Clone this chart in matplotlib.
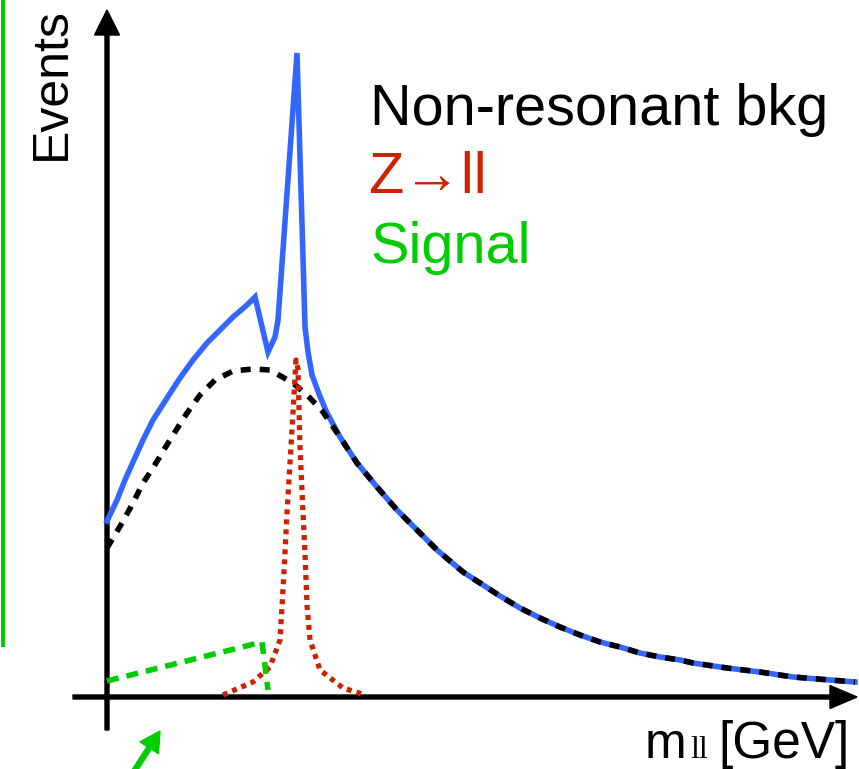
import matplotlib
matplotlib.use("Agg")
import matplotlib.pyplot as plt

plt.rcParams['font.family'] = ['Liberation Sans', 'DejaVu Sans']
plt.rcParams['lines.scale_dashes'] = False

# schematic curves, x = mass (arbitrary units), y = events (arbitrary units)
bkg_x = [0, 15, 26, 36, 46, 58, 68, 80, 93, 108, 126, 146, 163, 186, 203, 216,
         233, 250, 270, 290, 310, 330, 356, 373, 393, 413, 433, 453, 473, 493,
         513, 533, 553, 573, 586, 620, 653, 686, 748]
bkg_y = [149, 174, 194, 214, 229, 249, 265, 284, 302, 317, 326, 328, 327, 314, 299, 285,
         260, 234, 210, 187, 167, 147, 125, 114, 101, 89, 79, 70, 62, 55,
         50, 44, 40, 37, 34, 29, 25, 20, 15]

tot_x = [0, 10, 18, 26, 36, 46, 60, 73, 86, 100, 113, 126, 140, 148, 161, 168, 171,
         190, 193, 196, 198, 201, 205, 212, 220, 233]
tot_y = [176, 197, 217, 235, 257, 277, 299, 319, 337, 354, 367, 380, 392, 400, 345, 360, 377,
         644, 540, 440, 370, 345, 322, 303, 284, 260]
# beyond the Z peak the total follows the background
tot_x = tot_x + bkg_x[17:]
tot_y = tot_y + bkg_y[17:]

z_x = [116, 146, 163, 173, 175, 178, 180, 183, 186, 189, 191, 193, 196, 198, 200,
       203, 213, 236, 255]
z_y = [2, 15, 30, 57, 90, 144, 184, 234, 284, 337, 328, 250, 184, 144, 92,
       57, 27, 9, 3]

sig_x = [0, 155, 161]
sig_y = [16, 55, 7]

legend_labels = ['Non-resonant bkg', 'Z\u2192ll', 'Signal']

blue = '#3366ff'
red = '#cc2200'
green = '#00cc00'

fig = plt.figure(figsize=(8.59, 7.69), dpi=100)
ax = fig.add_axes([0, 0, 1, 1])
ax.set_xlim(-107, 752)
ax.set_ylim(-72, 697)
ax.axis('off')

# axes arrows
ax.arrow(0, -33, 0, 720, width=4, head_width=25, head_length=25,
         length_includes_head=True, color='k', zorder=1)
ax.arrow(-34, 0, 784, 0, width=4, head_width=23, head_length=27,
         length_includes_head=True, color='k', zorder=1)

ax.plot(tot_x, tot_y, color=blue, lw=4, solid_joinstyle='miter', zorder=2)
ax.plot(bkg_x, bkg_y, color='k', lw=4, dashes=(7.2, 6.5), zorder=3)
ax.plot(z_x, z_y, color=red, lw=3.8, dashes=(3.6, 3.6), zorder=4)
ax.plot(sig_x, sig_y, color=green, lw=4, dashes=(8.6, 5.8), zorder=4)

# stray green marks
ax.plot([-104, -104], [697, 52], color=green, lw=2.9)
ax.arrow(26, -76, 27, 42, width=5, head_width=22, head_length=20,
         length_includes_head=True, color=green, clip_on=False)

ax.text(-55, 613, 'Events', rotation=90, ha='center', va='center', fontsize=36)
ax.text(263, 572, legend_labels[0], fontsize=41.5, color='k', va='baseline')
ax.text(261, 504, legend_labels[1], fontsize=41.5, color=red, va='baseline')
ax.text(263, 434, legend_labels[2], fontsize=41.5, color=green, va='baseline')

ax.text(538, -61, 'm', fontsize=36, va='baseline')
ax.text(583, -61, 'll', fontsize=23, va='baseline', family='Liberation Serif')
ax.text(743, -61, '[GeV]', fontsize=37, va='baseline', ha='right')

fig.savefig('out.png', dpi=100)
